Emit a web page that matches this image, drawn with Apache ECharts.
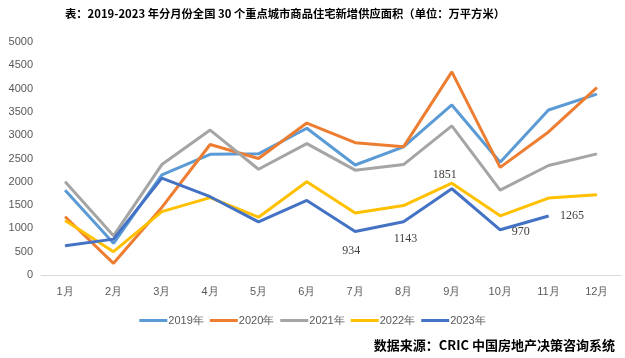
<!DOCTYPE html>
<html><head><meta charset="utf-8">
<script src="https://cdn.jsdelivr.net/npm/echarts@6/dist/echarts.min.js"></script>
<style>html,body{margin:0;padding:0;background:#fff}#c{width:625px;height:358px}</style>
</head><body><div id="c"></div>
<script>
const categories = ['1月','2月','3月','4月','5月','6月','7月','8月','9月','10月','11月','12月'];
const seriesNames = ['2019年','2020年','2021年','2022年','2023年'];
const y2019 = [1820, 680, 2150, 2590, 2600, 3150, 2360, 2750, 3650, 2420, 3540, 3880];
const y2020 = [1250, 250, 1450, 2800, 2500, 3260, 2840, 2750, 4360, 2310, 3070, 4020];
const y2021 = [2000, 840, 2370, 3110, 2270, 2820, 2250, 2370, 3200, 1820, 2350, 2600];
const y2022 = [1170, 500, 1360, 1660, 1240, 2000, 1330, 1490, 1970, 1270, 1650, 1720];
const y2023 = [630, 770, 2080, 1680, 1140, 1600, 934, 1143, 1851, 970, 1265];
const yTicks = [0, 500, 1000, 1500, 2000, 2500, 3000, 3500, 4000, 4500, 5000];
const colors = ['#5B9BD5', '#ED7D31', '#A5A5A5', '#FFC000', '#4472C4'];

const labelOffsets = {6: [-4, 8], 7: [2, 6], 8: [-7, -2], 9: [6, 2], 10: [6, 0]};
const d2023 = y2023.map((v, i) => {
  if (labelOffsets[i]) {
    const pos = (i === 8) ? 'top' : (i === 9 || i === 10) ? 'right' : 'bottom';
    return { value: v, label: { show: true, position: pos, offset: labelOffsets[i],
      fontFamily: 'Liberation Serif, serif', fontSize: 12, color: '#404040' } };
  }
  return v;
});

const all = [y2019, y2020, y2021, y2022, d2023];
const chart = echarts.init(document.getElementById('c'));
chart.setOption({
  animation: false,
  color: colors,
  title: [{
    text: '表：2019-2023 年分月份全国 30 个重点城市商品住宅新增供应面积（单位：万平方米）',
    left: 280, top: 3, textAlign: 'center',
    textStyle: { fontSize: 11.3, fontWeight: 'bold', color: '#000', fontFamily: 'Noto Sans CJK SC' }
  }, {
    text: '数据来源：CRIC 中国房地产决策咨询系统',
    right: 5, top: 334,
    textStyle: { fontSize: 13, fontWeight: 'bold', color: '#000', fontFamily: 'Noto Sans CJK SC' }
  }],
  legend: {
    data: seriesNames, left: 'center', top: 310,
    itemWidth: 28, itemHeight: 3, itemGap: 6,
    icon: 'rect',
    textStyle: { color: '#595959', fontSize: 11, padding: [0, 0, 0, -4] }
  },
  grid: { left: 41, right: 4, top: 42, bottom: 83, containLabel: false },
  xAxis: {
    type: 'category', data: categories, boundaryGap: true,
    axisLine: { lineStyle: { color: '#D9D9D9' } },
    axisTick: { show: false },
    axisLabel: { color: '#595959', fontSize: 11, margin: 11 }
  },
  yAxis: {
    type: 'value', min: yTicks[0], max: yTicks[yTicks.length - 1], interval: 500,
    axisLine: { show: false }, axisTick: { show: false },
    splitLine: { show: false },
    axisLabel: { color: '#595959', fontSize: 11, margin: 8, fontFamily: 'Liberation Sans, Arial',
      formatter: v => String(v) }
  },
  series: seriesNames.map((n, i) => ({
    name: n, type: 'line', data: all[i], symbol: 'circle', symbolSize: 1, showSymbol: true,
    itemStyle: { color: colors[i] },
    lineStyle: { width: 3, color: colors[i] }, z: 2 + (i === 4 ? 5 : 0)
  }))
});
</script></body></html>
